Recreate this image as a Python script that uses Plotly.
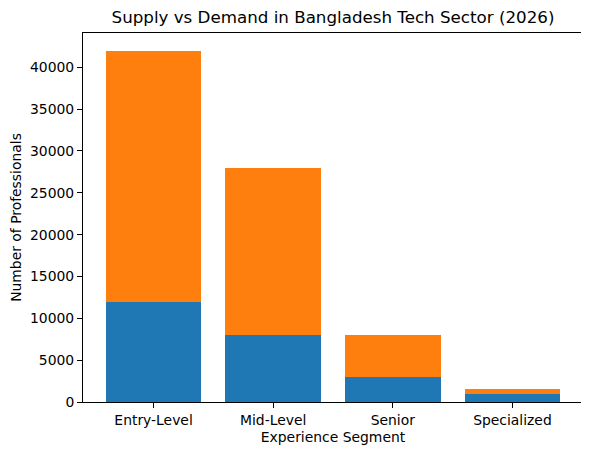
import plotly.graph_objects as go

segments = ["Entry-Level", "Mid-Level", "Senior", "Specialized"]
supply = [12000, 8000, 3000, 1000]
demand_gap = [30000, 20000, 5000, 500]

fig = go.Figure()
fig.add_trace(go.Bar(x=segments, y=supply, name="Supply",
                     marker=dict(color="#1f77b4", line=dict(width=0))))
fig.add_trace(go.Bar(x=segments, y=demand_gap, name="Demand",
                     marker=dict(color="#ff7f0e", line=dict(width=0))))

total_max = max(s + d for s, d in zip(supply, demand_gap))

axis_style = dict(showline=True, linecolor="black", linewidth=1, mirror=True,
                  ticks="outside", ticklen=5, tickcolor="black", showgrid=False,
                  zeroline=False, automargin=False, tickfont=dict(size=13.9, color="black"))

# page body has an 8px margin, so the figure is a bit smaller than the window
W, H = 581, 447
L, R, T, B = 75, 6, 25, 53

fig.update_layout(
    width=W, height=H,
    barmode="stack", bargap=0.2,
    showlegend=False,
    plot_bgcolor="white", paper_bgcolor="white",
    font=dict(family="DejaVu Sans", color="black"),
    margin=dict(l=L, r=R, t=T, b=B),
    title=dict(text="Supply vs Demand in Bangladesh Tech Sector (2026)",
               x=(L + W - R) / 2 / W, xanchor="center", y=1 - 9 / H, yanchor="middle",
               font=dict(size=16.7, color="black")),
    xaxis=dict(axis_style, range=[-0.59, 3.59],
               title=dict(text="Experience Segment", font=dict(size=13.9), standoff=5)),
    yaxis=dict(axis_style, range=[0, total_max * 1.05], dtick=5000, tickformat="d",
               title=dict(text="Number of Professionals", font=dict(size=13.9), standoff=8)),
)

fig.write_html("out.html")
